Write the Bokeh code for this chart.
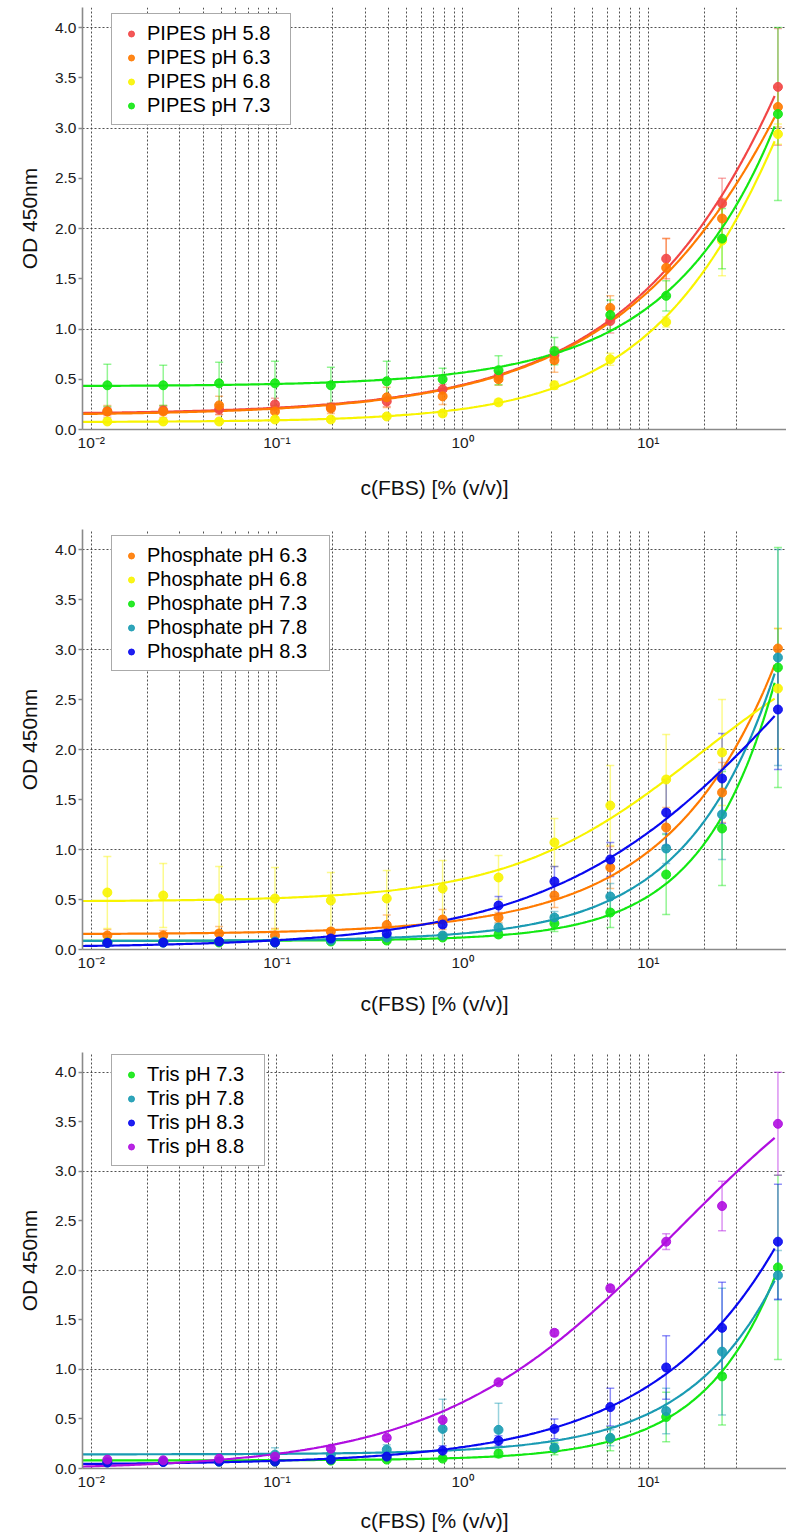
import numpy as np
from bokeh.plotting import figure
from bokeh.layouts import column
from bokeh.models import (Range1d, FixedTicker, CustomJSTickFormatter, PrintfTickFormatter,
                          ColumnDataSource, Whisker, TeeHead)
from bokeh.embed import file_html
from bokeh.resources import INLINE

# ---------------- data ----------------
conc = [0.012207, 0.024414, 0.048828, 0.097656, 0.195313, 0.390625, 0.78125,
        1.5625, 3.125, 6.25, 12.5, 25.0, 50.0]

x_major_ticks = [0.01, 0.1, 1, 10]
x_grid_lines = [0.01, 0.02, 0.03, 0.04, 0.05, 0.06, 0.07, 0.08, 0.09,
                0.1, 0.2, 0.3, 0.4, 0.5, 0.6, 0.7, 0.8, 0.9,
                1, 2, 3, 4, 5, 6, 7, 8, 9, 10, 20, 30]
y_ticks = [0.0, 0.5, 1.0, 1.5, 2.0, 2.5, 3.0, 3.5, 4.0]
y_grid_lines = [1, 2, 3, 4]

# PIPES
pipes_58 = [0.18, 0.19, 0.20, 0.25, 0.22, 0.28, 0.40, 0.53, 0.74, 1.08, 1.70, 2.25, 3.41]
pipes_58_sd = [0.04, 0.04, 0.05, 0.06, 0.04, 0.05, 0.05, 0.05, 0.08, 0.12, 0.20, 0.25, 0.58]
pipes_63 = [0.18, 0.18, 0.24, 0.18, 0.21, 0.32, 0.33, 0.50, 0.69, 1.21, 1.61, 2.10, 3.21]
pipes_63_sd = [0.06, 0.06, 0.09, 0.06, 0.05, 0.10, 0.08, 0.06, 0.12, 0.12, 0.29, 0.20, 0.20]
pipes_68 = [0.08, 0.08, 0.08, 0.10, 0.10, 0.13, 0.16, 0.27, 0.44, 0.70, 1.07, 1.88, 2.94]
pipes_68_sd = [0.02, 0.02, 0.02, 0.02, 0.02, 0.02, 0.03, 0.03, 0.04, 0.06, 0.05, 0.35, 0.10]
pipes_73 = [0.44, 0.44, 0.46, 0.46, 0.44, 0.48, 0.50, 0.59, 0.78, 1.14, 1.33, 1.90, 3.14]
pipes_73_sd = [0.21, 0.20, 0.21, 0.22, 0.18, 0.20, 0.11, 0.145, 0.135, 0.15, 0.15, 0.30, 0.86]

# Phosphate
phos_63 = [0.14, 0.14, 0.16, 0.14, 0.18, 0.245, 0.30, 0.32, 0.54, 0.82, 1.22, 1.57, 3.01]
phos_63_sd = [0.06, 0.05, 0.07, 0.07, 0.03, 0.10, 0.10, 0.05, 0.12, 0.21, 0.20, 0.30, 0.20]
phos_68 = [0.57, 0.54, 0.51, 0.51, 0.49, 0.51, 0.61, 0.72, 1.07, 1.44, 1.70, 1.97, 2.61]
phos_68_sd = [0.36, 0.32, 0.32, 0.31, 0.28, 0.28, 0.28, 0.22, 0.24, 0.40, 0.45, 0.53, 0.60]
phos_73 = [0.07, 0.07, 0.07, 0.07, 0.08, 0.09, 0.12, 0.15, 0.26, 0.37, 0.75, 1.21, 2.82]
phos_73_sd = [0.01, 0.01, 0.01, 0.01, 0.01, 0.02, 0.02, 0.03, 0.08, 0.15, 0.40, 0.57, 1.20]
phos_78 = [0.065, 0.07, 0.08, 0.08, 0.09, 0.12, 0.14, 0.22, 0.32, 0.53, 1.01, 1.35, 2.92]
phos_78_sd = [0.01, 0.01, 0.01, 0.01, 0.02, 0.02, 0.03, 0.04, 0.06, 0.13, 0.15, 0.45, 1.08]
phos_83 = [0.066, 0.07, 0.08, 0.07, 0.11, 0.16, 0.25, 0.44, 0.68, 0.90, 1.37, 1.71, 2.40]
phos_83_sd = [0.01, 0.01, 0.01, 0.01, 0.02, 0.03, 0.03, 0.09, 0.15, 0.17, 0.33, 0.45, 0.60]

# Tris
tris_73 = [0.07, 0.07, 0.07, 0.07, 0.08, 0.09, 0.10, 0.15, 0.20, 0.30, 0.52, 0.93, 2.03]
tris_73_sd = [0.01, 0.01, 0.01, 0.01, 0.02, 0.02, 0.02, 0.04, 0.06, 0.12, 0.25, 0.49, 0.93]
tris_78 = [0.06, 0.07, 0.07, 0.14, 0.14, 0.19, 0.40, 0.39, 0.21, 0.31, 0.58, 1.18, 1.95]
tris_78_sd = [0.01, 0.01, 0.01, 0.07, 0.04, 0.05, 0.30, 0.27, 0.04, 0.08, 0.23, 0.64, 0.25]
tris_83 = [0.06, 0.065, 0.07, 0.07, 0.09, 0.12, 0.18, 0.28, 0.40, 0.62, 1.02, 1.42, 2.29]
tris_83_sd = [0.01, 0.01, 0.01, 0.01, 0.02, 0.02, 0.05, 0.05, 0.10, 0.19, 0.32, 0.46, 0.58]
tris_88 = [0.09, 0.083, 0.10, 0.12, 0.20, 0.31, 0.49, 0.87, 1.37, 1.82, 2.29, 2.65, 3.48]
tris_88_sd = [0.01, 0.01, 0.01, 0.01, 0.02, 0.02, 0.02, 0.02, 0.03, 0.03, 0.08, 0.25, 0.52]

RED = "#f24646"
ORANGE = "#ff7a00"
YELLOW = "#f8f400"
GREEN = "#12e812"
TEAL = "#1a9bb3"
BLUE = "#0808f0"
PURPLE = "#b00ee0"

panel_pipes = [("PIPES pH 5.8", RED, pipes_58, pipes_58_sd),
               ("PIPES pH 6.3", ORANGE, pipes_63, pipes_63_sd),
               ("PIPES pH 6.8", YELLOW, pipes_68, pipes_68_sd),
               ("PIPES pH 7.3", GREEN, pipes_73, pipes_73_sd)]
panel_phos = [("Phosphate pH 6.3", ORANGE, phos_63, phos_63_sd),
              ("Phosphate pH 6.8", YELLOW, phos_68, phos_68_sd),
              ("Phosphate pH 7.3", GREEN, phos_73, phos_73_sd),
              ("Phosphate pH 7.8", TEAL, phos_78, phos_78_sd),
              ("Phosphate pH 8.3", BLUE, phos_83, phos_83_sd)]
panel_tris = [("Tris pH 7.3", GREEN, tris_73, tris_73_sd),
              ("Tris pH 7.8", TEAL, tris_78, tris_78_sd),
              ("Tris pH 8.3", BLUE, tris_83, tris_83_sd),
              ("Tris pH 8.8", PURPLE, tris_88, tris_88_sd)]

X_LABEL = "c(FBS) [% (v/v)]"
Y_LABEL = "OD 450nm"
XMIN, XMAX = 0.00897, 55.6
FIT_END = 48.0
FONT = "Liberation Sans"


# ---------------- four-parameter logistic fit of the means ----------------
def fit_4pl(x, y, xs):
    x = np.asarray(x, float)
    y = np.asarray(y, float)

    def evaluate(bs, lcs):
        B, LC = np.meshgrid(bs, lcs, indexing="ij")
        B = B[..., None]
        C = 10.0 ** LC[..., None]
        g = 1.0 / (1.0 + (x / C) ** B)
        gm = g.mean(-1, keepdims=True)
        ym = y.mean()
        s = ((g - gm) * (y - ym)).sum(-1, keepdims=True) / (((g - gm) ** 2).sum(-1, keepdims=True) + 1e-12)
        d = ym - s * gm
        sse = ((y - (d + s * g)) ** 2).sum(-1)
        i = np.unravel_index(np.argmin(sse), sse.shape)
        return bs[i[0]], lcs[i[1]]

    b, lc = evaluate(np.linspace(0.3, 3.0, 55), np.linspace(-1.0, 4.5, 111))
    for sb, sc in [(0.05, 0.05), (0.005, 0.005)]:
        b, lc = evaluate(np.linspace(max(0.05, b - 10 * sb), b + 10 * sb, 21),
                         np.linspace(lc - 10 * sc, lc + 10 * sc, 21))
    c = 10.0 ** lc
    g = 1.0 / (1.0 + (x / c) ** b)
    s = ((g - g.mean()) * (y - y.mean())).sum() / ((g - g.mean()) ** 2).sum()
    d = y.mean() - s * g.mean()
    gs = 1.0 / (1.0 + (xs / c) ** b)
    return d + s * gs


xs_fit = np.logspace(np.log10(XMIN), np.log10(FIT_END), 300)

tick_js = r'''
const e = Math.round(Math.log10(tick));
const m = {"-": "\u207b", "0": "\u2070", "1": "\u00b9", "2": "\u00b2", "3": "\u00b3",
           "4": "\u2074", "5": "\u2075", "6": "\u2076", "7": "\u2077", "8": "\u2078", "9": "\u2079"};
return "10" + String(e).split("").map(function (c) { return m[c]; }).join("");
'''


def make_panel(series, height, top_border, bottom_border, frame_h, legend_top,
               label_width, xlabel_standoff):
    p = figure(width=786, height=height, x_axis_type="log",
               x_range=Range1d(XMIN, XMAX), y_range=Range1d(0, 4.2),
               output_backend="svg", toolbar_location=None,
               min_border_left=82, min_border_right=0, min_border_top=top_border,
               min_border_bottom=bottom_border)
    p.outline_line_color = None
    p.background_fill_color = "white"

    # grids
    p.xgrid.ticker = FixedTicker(ticks=x_grid_lines)
    p.ygrid.ticker = FixedTicker(ticks=y_grid_lines)
    for g in (p.xgrid, p.ygrid):
        g.grid_line_color = "#333333"
        g.grid_line_dash = "2 2"
        g.grid_line_width = 1
        g.grid_line_alpha = 0.85

    # x axis
    xa = p.xaxis[0]
    xa.ticker = FixedTicker(ticks=x_major_ticks, minor_ticks=[])
    xa.formatter = CustomJSTickFormatter(code=tick_js)
    xa.major_tick_out = 0
    xa.major_tick_in = 0
    xa.minor_tick_out = 0
    xa.minor_tick_in = 0
    xa.axis_label = X_LABEL
    xa.major_label_standoff = 4
    xa.axis_label_standoff = xlabel_standoff

    # y axis
    ya = p.yaxis[0]
    ya.ticker = FixedTicker(ticks=y_ticks, minor_ticks=[])
    ya.formatter = PrintfTickFormatter(format="%.1f")
    ya.major_tick_out = 4
    ya.major_tick_in = 0
    ya.minor_tick_out = 0
    ya.minor_tick_in = 0
    ya.axis_label = Y_LABEL
    ya.major_label_standoff = 2
    ya.axis_label_standoff = 11

    for ax in (xa, ya):
        ax.axis_line_color = "#8a8a8a"
        ax.axis_line_width = 1.6
        ax.major_tick_line_color = "#8a8a8a"
        ax.major_tick_line_width = 1.4
        ax.major_label_text_font = FONT
        ax.major_label_text_font_size = "15.5px"
        ax.major_label_text_color = "#1a1a1a"
        ax.axis_label_text_font = FONT
        ax.axis_label_text_font_size = "21px"
        ax.axis_label_text_font_style = "normal"
        ax.axis_label_text_color = "#111111"

    for label, col, mean, sd in series:
        m = np.asarray(mean)
        s = np.asarray(sd)
        src = ColumnDataSource(dict(base=conc, upper=(m + s).tolist(), lower=(m - s).tolist()))
        w = Whisker(base="base", upper="upper", lower="lower", source=src,
                    line_color=col, line_alpha=0.45, line_width=1.5,
                    upper_head=TeeHead(size=8, line_color=col, line_alpha=0.45, line_width=1.5),
                    lower_head=TeeHead(size=8, line_color=col, line_alpha=0.45, line_width=1.5))
        p.add_layout(w)

    for label, col, mean, sd in series:
        ys_fit = fit_4pl(conc, mean, xs_fit)
        p.line(xs_fit, ys_fit, line_color=col, line_width=2.2)

    for label, col, mean, sd in series:
        p.scatter(conc, mean, size=9, fill_color=col, line_color=col,
                  fill_alpha=0.9, line_alpha=0.9, legend_label=label)

    lg = p.legend[0]
    n = len(series)
    pad = 7
    row = 24
    lh = 2 * pad + n * row
    lg.location = (29, frame_h - legend_top - lh)
    lg.padding = pad
    lg.spacing = 0
    lg.label_height = row
    lg.label_width = label_width
    lg.glyph_height = 15
    lg.glyph_width = 24
    lg.label_standoff = 4
    lg.label_text_font = FONT
    lg.label_text_font_size = "20px"
    lg.label_text_color = "#000000"
    lg.border_line_color = "#555555"
    lg.border_line_width = 1
    lg.background_fill_color = "white"
    lg.background_fill_alpha = 1.0
    lg.margin = 0
    return p


# heights: panel 1 0-522, panel 2 522-1044, panel 3 1044-1534
p1 = make_panel(panel_pipes, 522, 7, 93, 422, 8, 136, 22)
p2 = make_panel(panel_phos, 522, 7, 95, 420, 8, 175, 18)
p3 = make_panel(panel_tris, 490, 8, 63, 419, 7, 110, 16)

layout = column(p1, p2, p3, spacing=0)

with open("out.html", "w", encoding="utf-8") as f:
    f.write(file_html(layout, INLINE))
